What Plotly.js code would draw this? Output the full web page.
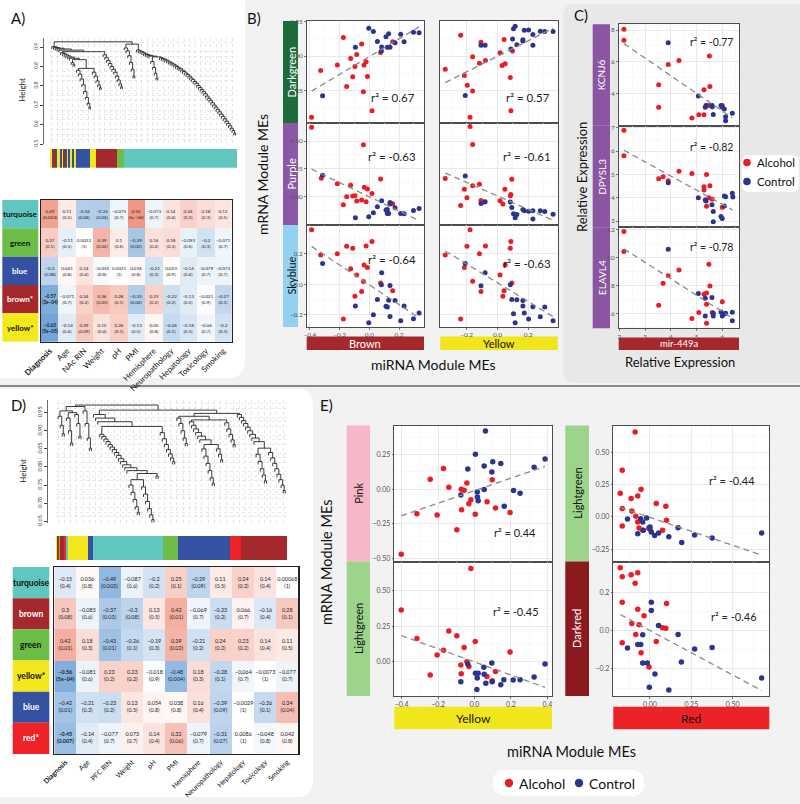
<!DOCTYPE html>
<html><head><meta charset="utf-8">
<script src="https://cdn.plot.ly/plotly-3.0.1.min.js"></script>
<style>html,body{margin:0;padding:0;background:#f2f2f2}#chart{width:800px;height:804px}</style>
</head><body><div id="chart"></div>
<script>
// ===================== DATA =====================
// Panel A: miRNA module-trait relationships
const traitColsA = ['Diagnosis','Age','NAc RIN','Weight','pH','PMI','Hemisphere','Neuropathology','Hepatology','Toxicology','Smoking'];
const modulesA = ['turquoise','green','blue','brown*','yellow*'];
const corrA = [
 [0.49,0.11,-0.34,-0.35,-0.075,0.55,-0.073,0.14,0.24,0.18,0.13],
 [0.27,-0.11,0.0022,0.39,0.1,-0.39,0.16,0.18,-0.093,-0.2,-0.071],
 [-0.3,0.041,0.14,-0.035,0.0021,0.036,-0.21,0.023,-0.14,-0.079,-0.073],
 [-0.57,-0.071,0.24,0.36,0.28,-0.35,0.23,-0.22,-0.13,-0.021,-0.27],
 [-0.63,-0.14,0.29,0.15,0.26,-0.13,0.05,-0.26,-0.18,-0.06,-0.2]];
const pvalA = [
 ['0.003','0.5','0.04','0.04','0.7','5e-04','0.7','0.4','0.2','0.3','0.5'],
 ['0.1','0.5','1','0.02','0.6','0.02','0.4','0.3','0.6','0.3','0.7'],
 ['0.08','0.8','0.4','0.8','1','0.8','0.2','0.9','0.4','0.7','0.7'],
 ['3e-04','0.7','0.2','0.03','0.1','0.04','0.2','0.2','0.5','0.9','0.1'],
 ['5e-05','0.4','0.09','0.4','0.1','0.5','0.8','0.1','0.3','0.7','0.3']];
const geneModulesA = ['yellow','blue','brown','blue','yellow','blue','yellow','brown','blue','yellow','blue','yellow','blue','yellow','blue','yellow','brown','green','turquoise'];
const geneCountsA = [5,5,8,4,8,6,4,6,4,5,5,5,7,6,42,18,62,23,339];

// Panel D: mRNA module-trait relationships
const traitColsD = ['Diagnosis','Age','PFC RIN','Weight','pH','PMI','Hemisphere','Neuropathology','Hepatology','Toxicology','Smoking'];
const modulesD = ['turquoise','brown','green','yellow*','blue','red*'];
const corrD = [
 [-0.15,0.036,-0.49,-0.087,-0.2,0.25,-0.29,0.11,0.24,0.14,0.00068],
 [0.3,-0.085,-0.37,-0.3,0.13,0.42,-0.069,-0.23,0.066,-0.16,0.28],
 [0.42,0.18,-0.43,-0.26,-0.19,0.39,-0.21,0.24,0.23,0.14,0.11],
 [-0.56,-0.081,0.23,0.23,-0.018,-0.48,0.18,-0.28,-0.064,-0.0073,-0.077],
 [-0.42,-0.21,-0.23,0.13,0.054,0.038,0.16,-0.29,-0.0029,-0.26,0.34],
 [-0.45,-0.14,-0.077,0.073,0.14,0.32,-0.079,-0.31,0.0086,-0.048,0.042]];
const pvalD = [
 ['0.4','0.8','0.003','0.6','0.2','0.1','0.09','0.5','0.2','0.4','1'],
 ['0.08','0.6','0.03','0.08','0.5','0.01','0.7','0.2','0.7','0.4','0.1'],
 ['0.01','0.3','0.01','0.1','0.3','0.02','0.2','0.2','0.2','0.4','0.5'],
 ['5e-04','0.6','0.2','0.2','0.9','0.004','0.3','0.1','0.7','1','0.7'],
 ['0.01','0.2','0.2','0.5','0.8','0.8','0.4','0.09','1','0.1','0.04'],
 ['0.007','0.4','0.7','0.7','0.4','0.06','0.7','0.07','1','0.8','0.8']];
const geneModulesD = ['yellow','brown','green','brown','red','turquoise','yellow','blue','turquoise','green','blue','red','brown'];
const geneCountsD = [4,6,3,11,6,7,60,13,212,45,155,32,140];

// Dendrogram merge heights (tree)
function node(h, l, r){ return {h:h, l:l||null, r:r||null}; }
function chain(items, tail){
  let nd = tail || null;
  for (let i = items.length-1; i >= 0; i--) {
    const it = items[i];
    nd = Array.isArray(it) ? {h:it[0], l:it[1], r:nd} : {h:it, l:null, r:nd};
  }
  return nd;
}
const bigRightA = [0.935,0.930,0.926,0.921,0.915,0.911,0.907,0.903,[0.899, chain([0.875,0.845,0.815,0.79])],0.895,0.891,0.887,0.883,0.878,0.872,0.867,0.862,0.856,0.850,0.843,0.838,0.831,0.824,0.816,0.808,0.800,0.791,0.782,0.772,0.763,0.752,0.741,0.731,0.720,0.709,0.697,0.686,0.675,0.663,0.651,0.640,0.628,0.616,0.604,0.592,0.580,0.568,0.556,0.544,0.531,0.519,0.506];
const dendA = node(0.977,
  chain([0.952,0.948,0.944,0.94,0.934], node(0.926,
     chain([0.921,0.916,0.91,0.904,0.898,0.892], node(0.885,
        node(0.87, null, node(0.86)),
        node(0.84, chain([0.83,0.81,0.785,0.755,0.72,0.69,0.66,0.64]), chain([0.82,0.80,0.775,0.755,0.74])))),
     chain([0.91,0.895,0.88,0.865,0.85,0.835,0.82,0.80,0.78,0.76,0.745]))),
  node(0.965, chain([0.945,0.93,0.905,0.87,0.835,0.80]), chain(bigRightA)));

const dendD = node(0.971,
  node(0.967,
    node(0.955, chain([0.94,0.915,0.892]), node(0.95, chain([0.935,0.90,0.866]), chain([0.945,0.92,0.885]))),
    chain([0.955,0.92,0.88,0.852])),
  node(0.957,
    chain([0.945,0.935,0.925], node(0.912,
      chain([0.89,0.884,0.877,0.87,0.862,0.855,0.848,0.84,0.832,0.823,0.815,0.806,0.798,0.79],
        node(0.782, node(0.765, chain([0.75,0.73,0.71,0.69,0.675]), chain([0.745,0.725,0.705,0.685,0.668,0.655])), node(0.775))),
      chain([0.895,0.878,0.862,0.848,0.836,0.825,0.815]))),
    node(0.948,
      node(0.94, chain([0.935,0.92,0.90,0.88,0.865]),
        node(0.93, chain([0.925,0.915,0.905,0.895,0.885,0.875], node(0.862, chain([0.85,0.83,0.81,0.79,0.77,0.755]), chain([0.85,0.835,0.82]))),
                   chain([0.922,0.905,0.89,0.875,0.862]))),
      chain([0.945,0.937,0.928,0.92,0.91,0.9,0.89,0.88,0.87], node(0.852, chain([0.835,0.815,0.795,0.778,0.762]), chain([0.84,0.825,0.81,0.795,0.78,0.765,0.75,0.735]))))));

// Panel B: mRNA module MEs vs miRNA module MEs
const bDarkgreenBrownAlcX = [-0.389,-0.328,-0.175,-0.216,-0.126,-0.112,-0.097,-0.085,-0.052,-0.153,-0.040,-0.036,-0.022,-0.013,0.018,0.076,0.157];
const bDarkgreenBrownAlcY = [-0.443,-0.105,0.136,-0.064,-0.017,-0.150,-0.076,0.012,0.088,-0.221,-0.259,-0.064,-0.040,-0.148,-0.397,0.026,0.105];
const bDarkgreenBrownCtlX = [-0.315,-0.094,-0.004,0.027,0.054,0.083,0.081,0.112,0.130,0.121,0.139,0.173,0.211,0.234,0.297,0.335];
const bDarkgreenBrownCtlY = [-0.288,0.064,0.202,0.179,0.107,0.067,0.038,0.140,0.162,0.064,0.064,0.098,0.159,0.105,0.174,0.169];
const bDarkgreenYellowAlcX = [-0.339,-0.239,-0.215,-0.196,-0.178,-0.161,-0.161,-0.117,-0.107,-0.078,0.017,0.030,0.043,0.050,0.083,0.087,0.098];
const bDarkgreenYellowAlcY = [-0.095,0.152,-0.140,-0.212,-0.443,-0.252,-0.005,-0.052,0.100,-0.031,0.024,-0.067,0.121,-0.055,-0.155,-0.397,0.038];
const bDarkgreenYellowCtlX = [-0.209,-0.107,-0.080,0.087,0.098,0.104,0.115,0.126,0.165,0.165,0.174,0.202,0.230,0.230,0.278,0.307,0.361];
const bDarkgreenYellowCtlY = [-0.286,0.079,0.079,0.052,0.124,0.198,0.217,0.083,0.119,0.109,0.188,0.190,0.157,0.079,0.181,0.179,0.179];
const bPurpleBrownAlcX = [-0.389,-0.324,-0.216,-0.175,-0.153,-0.126,-0.112,-0.097,-0.085,-0.052,-0.040,-0.034,-0.022,-0.013,0.018,0.076,0.157];
const bPurpleBrownAlcY = [0.623,0.166,0.117,-0.072,0.000,0.102,0.006,0.009,-0.039,-0.030,0.467,0.084,-0.045,0.069,0.030,0.160,-0.063];
const bPurpleBrownCtlX = [-0.315,-0.094,-0.004,0.027,0.054,0.083,0.112,0.121,0.121,0.130,0.139,0.139,0.173,0.211,0.234,0.297,0.335];
const bPurpleBrownCtlY = [0.193,-0.190,-0.181,-0.145,-0.090,-0.036,-0.120,-0.114,-0.151,-0.151,-0.051,-0.066,-0.099,-0.151,-0.154,-0.123,-0.105];
const bPurpleYellowAlcX = [-0.339,-0.239,-0.215,-0.198,-0.178,-0.161,-0.161,-0.117,-0.107,-0.085,0.017,0.035,0.048,0.083,0.087,0.093];
const bPurpleYellowAlcY = [0.163,-0.078,0.066,-0.009,0.630,0.470,0.099,0.111,-0.033,-0.048,-0.036,-0.066,0.066,0.009,0.021,0.157];
const bPurpleYellowCtlX = [-0.209,-0.107,-0.080,0.083,0.093,0.104,0.115,0.126,0.165,0.174,0.202,0.230,0.230,0.278,0.307,0.361];
const bPurpleYellowCtlY = [0.187,-0.060,-0.045,-0.048,-0.096,-0.154,-0.190,-0.160,-0.114,-0.127,-0.130,-0.199,-0.127,-0.127,-0.133,-0.157];
const bSkyblueBrownAlcX = [-0.389,-0.328,-0.216,-0.153,-0.112,-0.126,-0.085,-0.040,-0.052,-0.097,-0.022,0.018,-0.036,-0.013,-0.175,0.076,0.157];
const bSkyblueBrownAlcY = [0.360,0.193,0.202,0.251,0.238,0.102,0.062,0.018,-0.047,-0.078,0.253,0.282,0.127,0.111,-0.229,0.009,-0.042];
const bSkyblueBrownCtlX = [-0.315,-0.094,-0.004,0.027,0.054,0.083,0.081,0.112,0.130,0.121,0.139,0.173,0.139,0.211,0.234,0.297,0.335];
const bSkyblueBrownCtlY = [0.138,-0.142,-0.253,-0.200,-0.100,0.076,-0.002,-0.144,-0.104,-0.149,-0.007,-0.107,-0.211,-0.240,-0.142,-0.227,-0.189];
const bSkyblueYellowAlcX = [-0.178,-0.339,-0.215,-0.198,-0.161,-0.117,-0.107,-0.078,0.017,0.035,0.043,0.050,0.083,0.087,0.093,-0.239];
const bSkyblueYellowAlcY = [0.360,0.193,0.111,0.251,0.020,0.202,-0.047,0.253,0.062,-0.078,-0.042,0.127,0.238,0.282,0.009,-0.229];
const bSkyblueYellowCtlX = [-0.209,-0.107,-0.080,0.083,0.093,0.104,0.115,0.126,0.165,0.165,0.174,0.202,0.230,0.278,0.307,0.361];
const bSkyblueYellowCtlY = [0.138,-0.009,0.076,-0.002,-0.100,-0.193,-0.253,-0.102,-0.107,-0.142,-0.189,-0.229,-0.147,-0.213,-0.149,-0.240];
const bRSquared = ['0.67','0.57','-0.63','-0.61','-0.64','-0.63'];
const bYTicks = [[-0.25,0,0.25],[0,0.25,0.5],[-0.2,0,0.2]];
const bXTicks = [-0.4,-0.2,0,0.2];

// Panel C: gene relative expression vs mir-449a relative expression
const cKcnj6AlcX = [2.18,2.18,3.53,3.53,3.90,4.32,4.82,5.09,5.29,5.29,5.50,5.52,5.39,5.48,5.59,6.00];
const cKcnj6AlcY = [8.04,7.35,4.55,3.12,5.83,6.08,2.44,2.65,2.65,4.23,6.36,4.44,3.24,3.24,3.24,3.24];
const cKcnj6CtlX = [3.90,5.07,5.34,5.37,5.61,5.65,5.60,5.95,6.00,6.08,6.13,6.13,6.39];
const cKcnj6CtlY = [7.20,3.83,3.12,3.24,3.16,2.67,3.24,3.24,3.12,3.01,2.53,2.27,2.74];
const cDpysl3AlcX = [2.18,2.18,3.53,3.70,3.90,4.32,4.82,5.39,5.29,5.29,5.52,5.48,5.39,5.61,6.00];
const cDpysl3AlcY = [6.89,5.80,4.81,4.90,4.73,5.13,5.04,5.00,4.47,4.33,4.51,4.00,3.63,3.93,3.59];
const cDpysl3CtlX = [3.90,5.07,5.34,5.37,5.60,5.65,5.65,5.95,6.00,6.08,6.13,6.08,6.39,6.41];
const cDpysl3CtlY = [4.64,4.00,3.90,3.86,3.70,3.41,2.97,3.19,3.11,3.64,4.04,4.07,4.19,4.03];
const cElavl4AlcX = [2.18,2.18,3.53,3.70,3.90,4.32,4.82,5.09,5.29,5.39,5.39,5.48,5.52,5.61,6.00,5.39];
const cElavl4AlcY = [11.88,10.44,6.58,8.16,8.71,9.12,5.62,6.05,7.37,7.46,6.65,9.53,7.97,6.05,6.84,5.28];
const cElavl4CtlX = [3.90,5.07,5.34,5.34,5.60,5.65,5.65,5.95,6.00,6.08,6.13,6.39,6.39];
const cElavl4CtlY = [10.61,7.42,7.08,5.81,7.13,6.00,5.81,6.10,5.81,5.95,6.00,6.07,5.47];
const cGenes = ['KCNJ6','DPYSL3','ELAVL4'];
const cRSquared = ['-0.77','-0.82','-0.78'];
const cYTicks = [[4,6,8],[3,4,5,6,7],[6,8,10,12]];
const cXTicks = [2,3,4,5,6];

// Panel E
const ePinkYellowAlcX = [-0.402,-0.316,-0.243,-0.205,-0.170,-0.141,-0.097,-0.073,-0.071,-0.057,-0.042,-0.031,-0.020,0.004,0.069,0.097,0.115,0.195];
const ePinkYellowAlcY = [-0.468,-0.177,0.072,-0.186,0.148,0.014,-0.291,0.000,-0.148,-0.007,0.045,-0.105,-0.076,-0.181,-0.091,0.067,-0.136,-0.167];
const ePinkYellowCtlX = [-0.075,-0.037,0.005,0.015,0.016,0.020,0.053,0.053,0.060,0.095,0.100,0.144,0.163,0.214,0.250,0.327,0.387];
const ePinkYellowCtlY = [-0.041,0.146,0.251,-0.021,-0.057,-0.084,0.167,-0.002,0.418,0.124,0.198,0.184,-0.122,-0.010,-0.029,0.158,0.217];
const eLightgreenRedAlcX = [-0.180,-0.168,-0.168,-0.168,-0.114,-0.110,-0.086,-0.090,-0.074,-0.074,-0.066,-0.054,-0.044,-0.006,0.000,0.038,0.076,0.096,0.100];
const eLightgreenRedAlcY = [0.185,0.364,0.065,-0.070,0.143,0.047,0.005,0.660,0.164,-0.039,-0.086,0.216,-0.104,-0.088,-0.096,0.104,-0.104,0.083,-0.026];
const eLightgreenRedCtlX = [-0.136,-0.074,-0.056,-0.044,-0.040,-0.020,-0.004,0.008,0.028,0.052,0.114,0.170,0.192,0.270,0.376,0.676,0.000];
const eLightgreenRedCtlY = [-0.016,-0.130,-0.013,-0.039,-0.104,-0.008,-0.083,-0.117,-0.143,-0.125,-0.153,-0.083,-0.198,-0.140,-0.164,-0.125,-0.078];
const eLightgreenYellowAlcX = [-0.402,-0.316,-0.243,-0.205,-0.170,-0.141,-0.097,-0.075,-0.073,-0.057,-0.042,-0.031,-0.020,0.004,0.068,0.097,0.115,0.195];
const eLightgreenYellowAlcY = [0.366,0.164,-0.093,0.049,0.083,0.218,0.185,-0.021,-0.083,0.102,0.002,-0.032,0.657,0.144,-0.102,-0.132,-0.067,0.069];
const eLightgreenYellowCtlX = [-0.075,-0.037,0.005,0.020,0.015,0.013,0.053,0.051,0.062,0.097,0.095,0.144,0.161,0.212,0.250,0.327,0.387];
const eLightgreenYellowCtlY = [-0.139,-0.014,-0.079,-0.079,-0.113,-0.194,-0.086,-0.037,-0.150,-0.139,-0.007,-0.160,-0.125,-0.127,-0.125,-0.106,-0.014];
const eDarkredRedAlcX = [-0.180,-0.168,-0.114,-0.090,-0.074,-0.168,-0.074,-0.036,-0.110,-0.066,-0.086,-0.168,-0.054,0.038,0.076,0.096,0.100,-0.006];
const eDarkredRedAlcY = [0.331,0.284,0.294,0.250,0.305,0.150,0.113,0.079,0.039,0.032,-0.019,-0.062,-0.115,-0.056,0.016,0.014,0.144,-0.190];
const eDarkredRedCtlX = [-0.136,-0.074,-0.056,-0.044,-0.044,-0.016,0.008,0.008,0.030,0.052,-0.004,0.114,0.170,0.190,0.270,0.376,0.676];
const eDarkredRedCtlY = [-0.090,-0.072,-0.072,-0.021,-0.169,-0.169,0.150,0.107,-0.226,0.028,-0.296,-0.310,-0.019,-0.164,-0.095,-0.088,-0.248];
const eRSquared = ['0.44','-0.44','-0.45','-0.46'];
const eYTicks = [[-0.5,-0.25,0,0.25],[-0.25,0,0.25,0.5],[0,0.25,0.5],[-0.2,0,0.2]];
const eXTicksYellow = [-0.4,-0.2,0,0.2,0.4];
const eXTicksRed = [0,0.25,0.5];
const groups = ['Alcohol','Control'];

// ===================== STYLE / LAYOUT =====================
const FONT = 'Lato, "Open Sans", Arial, sans-serif';
const W = 800, H = 804;
const P = x => x / W;
const Q = y => 1 - y / H;
const dom = (a, b) => [Q(b), Q(a)];
const RED = '#ec1c24', BLUE = '#2b3590';
const MODCOL = {turquoise:'#60c7bf', green:'#6cbd45', blue:'#3451a2', brown:'#a5282c', yellow:'#f3e81b', red:'#ee2227'};
const MODTXT = {turquoise:'#111', green:'#111', blue:'#fff', brown:'#fff', yellow:'#111', red:'#fff'};
const HEATSCALE = [[0,'#1f6fc0'],[0.5,'#ffffff'],[1,'#e4411f']];

const traces = [];
const layout = {
  width: W, height: H, margin:{l:0,r:0,t:0,b:0},
  paper_bgcolor:'#f2f2f2', plot_bgcolor:'#ffffff', showlegend:false,
  font:{family:FONT, color:'#1a1a1a'}, shapes:[], annotations:[], bargap:0
};
function roundRect(x0,y0,x1,y1,r){
  const pt = (x,y) => P(x)+','+Q(y);
  return 'M'+pt(x0+r,y0)+' L'+pt(x1-r,y0)+' Q'+pt(x1,y0)+' '+pt(x1,y0+r)+' L'+pt(x1,y1-r)+' Q'+pt(x1,y1)+' '+pt(x1-r,y1)+
    ' L'+pt(x0+r,y1)+' Q'+pt(x0,y1)+' '+pt(x0,y1-r)+' L'+pt(x0,y0+r)+' Q'+pt(x0,y0)+' '+pt(x0+r,y0)+' Z';
}
function addPath(path, fill){ layout.shapes.push({type:'path', xref:'paper', yref:'paper', path:path, fillcolor:fill, line:{width:0}, layer:'below'}); }
function ann(o){ layout.annotations.push(Object.assign({showarrow:false, xref:'paper', yref:'paper', xanchor:'center', yanchor:'middle'}, o)); }

// backgrounds
addPath(roundRect(-20,-20,245,378,18), '#ffffff');
addPath(roundRect(563,4,820,383,12), '#e8e8e8');
addPath(roundRect(-20,389,313,797,16), '#ffffff');
layout.shapes.push({type:'line', xref:'paper', yref:'paper', x0:0, x1:1, y0:Q(386), y1:Q(386), line:{color:'#666', width:1.6}, layer:'below'});

// panel letters
[['A)',18,18],['B)',254,18],['C)',581,15],['D)',18,405],['E)',326,405]].forEach(l =>
  ann({text:l[0], x:P(l[1]), y:Q(l[2]), font:{size:15, color:'#111'}}));

// ---------- dendrograms ----------
function dendroSegments(root, drop){
  const xs = [], ys = []; let idx = 0;
  const seg = (x0,y0,x1,y1) => { xs.push(x0,x1,null); ys.push(y0,y1,null); };
  function place(child, h){
    if (!child) { const x = idx++; seg(x,h,x,h-drop); return x; }
    const x = walk(child); seg(x,h,x,child.h); return x;
  }
  function walk(nd){ const lx = place(nd.l, nd.h), rx = place(nd.r, nd.h); seg(lx,nd.h,rx,nd.h); return (lx+rx)/2; }
  walk(root);
  return {x:xs, y:ys, n:idx};
}
function dendroPanel(n, tree, drop, xPix, yPix, yr, dt, fmt, axisX, fsize, heightLbl){
  const d = dendroSegments(tree, drop);
  const sfx = n === 1 ? '' : String(n);
  traces.push({type:'scatter', mode:'lines', x:d.x, y:d.y, xaxis:'x'+sfx, yaxis:'y'+sfx, line:{color:'#262626', width:0.9}, hoverinfo:'skip', showlegend:false});
  layout['xaxis'+sfx] = {domain:[P(xPix[0]),P(xPix[1])], range:[-1, d.n], anchor:'y'+sfx, showticklabels:false, ticks:'', zeroline:false, showline:false,
    showgrid:true, dtick:3, tick0:0, griddash:'dot', gridcolor:'#d9d9d9', gridwidth:0.7};
  layout['yaxis'+sfx] = {domain:dom(yPix[0],yPix[1]), range:yr, anchor:'free', position:P(axisX), dtick:dt, tick0:0.05, tickformat:fmt,
    tickangle:-90, tickfont:{size:fsize, color:'#444'}, ticks:'outside', ticklen:3, tickcolor:'#444', showline:true, linecolor:'#444', linewidth:0.8,
    zeroline:false, showgrid:false, minor:{dtick:dt/4, showgrid:true, griddash:'dot', gridcolor:'#dedede', gridwidth:0.7}};
  ann({text:'Height', x:P(heightLbl[0]), y:Q(heightLbl[1]), textangle:-90, font:{size:8, color:'#222'}});
}
dendroPanel(1, dendA, 0.012, [50,237.3], [38.3,144], [0.45,0.995], 0.1, '.1f', 42.7, 5, [21.7,90]);
dendroPanel(13, dendD, 0.008, [56,287.3], [400,523.1], [0.645,0.985], 0.05, '.2f', 47.3, 5.5, [22.7,471]);

// ---------- module colour bars ----------
function colorBar(n, mods, counts, xPix, yPix){
  const base = []; let acc = 0;
  counts.forEach(c => { base.push(acc); acc += c; });
  traces.push({type:'bar', orientation:'h', x:counts, base:base, y:counts.map(() => 0), width:1,
    marker:{color:mods.map(m => MODCOL[m]), line:{width:0}}, xaxis:'x'+n, yaxis:'y'+n, hoverinfo:'skip', showlegend:false});
  layout['xaxis'+n] = {domain:[P(xPix[0]),P(xPix[1])], range:[0,acc], anchor:'y'+n, visible:false};
  layout['yaxis'+n] = {domain:dom(yPix[0],yPix[1]), range:[-0.5,0.5], anchor:'x'+n, visible:false};
}
colorBar(2, geneModulesA, geneCountsA, [50,237.3], [149,167.7]);
colorBar(14, geneModulesD, geneCountsD, [56,287.3], [536,560.3]);

// ---------- heatmaps ----------
function heatPanel(n, cols, mods, corr, pv, xPix, yPix, lblPix, fsCell, fsTick, fsRow){
  const txt = corr.map((row,i) => row.map((v,j) => {
    const s = String(v).replace('-', '\u2212') + '<br>(' + pv[i][j].replace('-', '\u2212') + ')';
    return (mods[i].indexOf('*') >= 0 && j === 0) ? '<b>' + s + '</b>' : s;
  }));
  traces.push({type:'heatmap', x:cols, y:mods, z:corr, text:txt, texttemplate:'%{text}', textfont:{size:fsCell, color:'#222', family:FONT},
    colorscale:HEATSCALE, zmin:-1, zmax:1, showscale:false, xaxis:'x'+n, yaxis:'y'+n, hoverinfo:'skip'});
  layout['xaxis'+n] = {domain:[P(xPix[0]),P(xPix[1])], anchor:'y'+n, type:'category', tickvals:cols,
    ticktext:cols.map((c,j) => j === 0 ? '<b>'+c+'</b>' : c), tickangle:-45, tickfont:{size:fsTick, color:'#111'}, ticks:'', ticklen:0,
    showline:true, mirror:true, linecolor:'#222', linewidth:1.4, showgrid:false, zeroline:false};
  layout['yaxis'+n] = {domain:dom(yPix[0],yPix[1]), anchor:'x'+n, type:'category', autorange:'reversed', showticklabels:false, ticks:'',
    showline:true, mirror:true, linecolor:'#222', linewidth:1.4, showgrid:false, zeroline:false};
  mods.forEach((m,i) => {
    const key = m.replace('*','');
    layout.shapes.push({type:'rect', xref:'paper', yref:'y'+n, x0:P(lblPix[0]), x1:P(lblPix[1]), y0:i-0.5, y1:i+0.5,
      fillcolor:MODCOL[key], line:{width:0}, layer:'below'});
    ann({text:'<b>'+m+'</b>', x:P((lblPix[0]+lblPix[1])/2), yref:'y'+n, y:i, font:{size:fsRow, color:MODTXT[key]}});
  });
}
heatPanel(3, traitColsA, modulesA, corrA, pvalA, [41,231.7], [200,341.7], [2.3,38.3], 4.6, 8, 8);
heatPanel(15, traitColsD, modulesD, corrD, pvalD, [54.3,298.3], [567,754], [12.7,49.3], 5.4, 7, 8.5);

// ---------- scatter panels ----------
function lm(xs, ys){
  const n = xs.length; const mx = xs.reduce((a,b)=>a+b,0)/n, my = ys.reduce((a,b)=>a+b,0)/n;
  let sxy = 0, sxx = 0; xs.forEach((x,i) => { sxy += (x-mx)*(ys[i]-my); sxx += (x-mx)*(x-mx); });
  const b = sxy/sxx, a = my - b*mx; const x0 = Math.min(...xs), x1 = Math.max(...xs);
  return {x:[x0,x1], y:[a+b*x0, a+b*x1]};
}
function scatterPanel(n, ax, ay, cx, cy, msize){
  const xa = 'x'+n, ya = 'y'+n;
  traces.push({type:'scatter', mode:'markers', name:groups[0], x:ax, y:ay, xaxis:xa, yaxis:ya, marker:{color:RED, size:msize}, hoverinfo:'skip', showlegend:false});
  traces.push({type:'scatter', mode:'markers', name:groups[1], x:cx, y:cy, xaxis:xa, yaxis:ya, marker:{color:BLUE, size:msize}, hoverinfo:'skip', showlegend:false});
  const f = lm(ax.concat(cx), ay.concat(cy));
  traces.push({type:'scatter', mode:'lines', x:f.x, y:f.y, xaxis:xa, yaxis:ya, line:{color:'#8a8a8a', width:1.3, dash:'6px,4px'}, hoverinfo:'skip', showlegend:false});
  // white plotting panel (sits above any paper-level background box)
  layout.shapes.push({type:'rect', xref:xa+' domain', yref:ya+' domain', x0:0, x1:1, y0:0, y1:1, fillcolor:'#ffffff', line:{width:0}, layer:'below'});
}
function scAxes(n, xPix, yPix, xr, yr, xTicks, yTicks, xfmt, yfmt, showX, showY, fs){
  const common = {showline:true, mirror:true, linecolor:'#4d4d4d', linewidth:1, zeroline:false, showgrid:true, gridcolor:'#e4e4e4', gridwidth:0.8,
    tickfont:{size:fs, color:'#555'}, ticklen:1.5, tickcolor:'#777'};
  const minorVals = t => t.slice(0,-1).map((v,i) => (v + t[i+1]) / 2).concat([t[0] - (t[1]-t[0])/2, t[t.length-1] + (t[1]-t[0])/2]);
  layout['xaxis'+n] = Object.assign({}, common, {domain:[P(xPix[0]),P(xPix[1])], range:xr, anchor:'y'+n, tickmode:'array', tickvals:xTicks, tickformat:xfmt,
    showticklabels:showX, ticks:showX?'outside':'', minor:{tickmode:'array', tickvals:minorVals(xTicks), showgrid:true, gridcolor:'#f3f3f3', gridwidth:0.6}});
  layout['yaxis'+n] = Object.assign({}, common, {domain:dom(yPix[0],yPix[1]), range:yr, anchor:'x'+n, tickmode:'array', tickvals:yTicks, tickformat:yfmt,
    showticklabels:showY, ticks:showY?'outside':'', minor:{tickmode:'array', tickvals:minorVals(yTicks), showgrid:true, gridcolor:'#f3f3f3', gridwidth:0.6}});
}
function rAnn(n, fx, fy, val, fs){
  ann({text:'r\u00b2 = ' + val, xref:'x'+n+' domain', yref:'y'+n+' domain', x:fx, y:fy, xanchor:'right', font:{size:fs, color:'#222'}});
}
function strip(n, xPix, fill, label, tcol, fs){
  layout.shapes.push({type:'rect', xref:'paper', yref:'y'+n+' domain', x0:P(xPix[0]), x1:P(xPix[1]), y0:0, y1:1, fillcolor:fill, line:{width:0}, layer:'below'});
  ann({text:label, x:P((xPix[0]+xPix[1])/2), yref:'y'+n+' domain', y:0.5, textangle:-90, font:{size:fs, color:tcol}});
}
function colBox(n, yPix, fill, label, tcol, fs){
  layout.shapes.push({type:'rect', xref:'x'+n+' domain', yref:'paper', x0:0, x1:1, y0:Q(yPix[1]), y1:Q(yPix[0]), fillcolor:fill, line:{width:0}, layer:'below'});
  ann({text:label, xref:'x'+n+' domain', x:0.5, y:Q((yPix[0]+yPix[1])/2), font:{size:fs, color:tcol}});
}

// Panel B
const bX1 = [306.7,424], bX2 = [440.3,557.7], bRows = [[21,123],[123,225],[225,327]];
const bXR1 = [-0.422,0.368], bXR2 = [-0.371,0.391];
scatterPanel(4, bDarkgreenBrownAlcX, bDarkgreenBrownAlcY, bDarkgreenBrownCtlX, bDarkgreenBrownCtlY, 5);
scatterPanel(5, bDarkgreenYellowAlcX, bDarkgreenYellowAlcY, bDarkgreenYellowCtlX, bDarkgreenYellowCtlY, 5);
scatterPanel(6, bPurpleBrownAlcX, bPurpleBrownAlcY, bPurpleBrownCtlX, bPurpleBrownCtlY, 5);
scatterPanel(7, bPurpleYellowAlcX, bPurpleYellowAlcY, bPurpleYellowCtlX, bPurpleYellowCtlY, 5);
scatterPanel(8, bSkyblueBrownAlcX, bSkyblueBrownAlcY, bSkyblueBrownCtlX, bSkyblueBrownCtlY, 5);
scatterPanel(9, bSkyblueYellowAlcX, bSkyblueYellowAlcY, bSkyblueYellowCtlX, bSkyblueYellowCtlY, 5);
const bYR = [[-0.485,0.255],[-0.254,0.662],[-0.281,0.391]], bYfmt = ['.2f','.2f','.1f'];
for (let r = 0; r < 3; r++) {
  scAxes(4+2*r, bX1, bRows[r], bXR1, bYR[r], bXTicks, bYTicks[r], '.1f', bYfmt[r], r === 2, true, 6.5);
  scAxes(5+2*r, bX2, bRows[r], bXR2, bYR[r], bXTicks, bYTicks[r], '.1f', bYfmt[r], r === 2, false, 6.5);
}
strip(4, [283,298], '#1e6b3b', 'Darkgreen', '#fff', 11);
strip(6, [283,298], '#8a58a6', 'Purple', '#fff', 11);
strip(8, [283,298], '#92d2f0', 'Skyblue', '#111', 11);
colBox(8, [336.5,350], MODCOL.brown, 'Brown', '#fff', 11);
colBox(9, [336.5,350], '#f1e51b', 'Yellow', '#111', 11);
[[4,0.94,0.252],[5,0.951,0.248],[6,0.949,0.67],[7,0.96,0.67],[8,0.949,0.664],[9,0.96,0.624]].forEach((p,i) => rAnn(p[0], p[1], p[2], bRSquared[i], 11.5));
ann({text:'mRNA Module MEs', x:P(263), y:Q(175), textangle:-90, font:{size:14, color:'#111'}});
ann({text:'miRNA Module MEs', x:P(433), y:Q(364), font:{size:14, color:'#111'}});

// Panel C
const cX = [618.7,739], cRows = [[24.3,125.7],[125.7,227.3],[227.3,328.3]], cXR = [1.977,6.65];
scatterPanel(10, cKcnj6AlcX, cKcnj6AlcY, cKcnj6CtlX, cKcnj6CtlY, 5);
scatterPanel(11, cDpysl3AlcX, cDpysl3AlcY, cDpysl3CtlX, cDpysl3CtlY, 5);
scatterPanel(12, cElavl4AlcX, cElavl4AlcY, cElavl4CtlX, cElavl4CtlY, 5);
const cYR = [[1.96,8.36],[2.73,7.09],[4.92,12.19]];
for (let r = 0; r < 3; r++) {
  scAxes(10+r, cX, cRows[r], cXR, cYR[r], cXTicks, cYTicks[r], 'd', 'd', r === 2, true, 6.5);
  strip(10+r, [592.7,610], '#8a55a3', cGenes[r], '#fff', 10);
}
colBox(12, [337.5,350], MODCOL.brown, 'mir-449a', '#fff', 9.5);
[[10,0.967,0.828],[11,0.967,0.793],[12,0.967,0.808]].forEach((p,i) => rAnn(p[0], p[1], p[2], cRSquared[i], 10.5));
ann({text:'Relative Expression', x:P(582), y:Q(177), textangle:-90, font:{size:13, color:'#111'}});
ann({text:'Relative Expression', x:P(680), y:Q(362), font:{size:13, color:'#111'}});
// legend C
addPath(roundRect(742,155,799,192,7), '#ffffff');
function legendItem(cx, cy, rad, col, label, fs){
  layout.shapes.push({type:'circle', xref:'paper', yref:'paper', x0:P(cx-rad), x1:P(cx+rad), y0:Q(cy+rad), y1:Q(cy-rad), fillcolor:col, line:{width:0}});
  ann({text:label, x:P(cx+rad+4), y:Q(cy), xanchor:'left', font:{size:fs, color:'#111'}});
}
legendItem(747, 162.5, 3.8, RED, groups[0], 11.5);
legendItem(747, 181.5, 3.8, BLUE, groups[1], 11.5);

// Panel E
const eXL = [394.3,552], eXR = [613.3,769.3], eRows = [[425.5,561.5],[561.5,696]];
scatterPanel(16, ePinkYellowAlcX, ePinkYellowAlcY, ePinkYellowCtlX, ePinkYellowCtlY, 5.5);
scatterPanel(17, eLightgreenRedAlcX, eLightgreenRedAlcY, eLightgreenRedCtlX, eLightgreenRedCtlY, 5.5);
scatterPanel(18, eLightgreenYellowAlcX, eLightgreenYellowAlcY, eLightgreenYellowCtlX, eLightgreenYellowCtlY, 5.5);
scatterPanel(19, eDarkredRedAlcX, eDarkredRedAlcY, eDarkredRedCtlX, eDarkredRedCtlY, 5.5);
scAxes(16, eXL, eRows[0], [-0.44,0.425], [-0.52,0.458], eXTicksYellow, eYTicks[0], '.1f', '.2f', false, true, 7);
scAxes(17, eXR, eRows[0], [-0.222,0.722], [-0.346,0.711], eXTicksRed, eYTicks[1], '.2f', '.2f', false, true, 7);
scAxes(18, eXL, eRows[1], [-0.44,0.425], [-0.24,0.707], eXTicksYellow, eYTicks[2], '.1f', '.2f', true, true, 7);
scAxes(19, eXR, eRows[1], [-0.222,0.722], [-0.342,0.364], eXTicksRed, eYTicks[3], '.2f', '.1f', true, true, 7);
strip(16, [346.7,370], '#f6b8c8', 'Pink', '#111', 11);
strip(18, [346.7,370], '#9dd48c', 'Lightgreen', '#111', 11);
strip(17, [565.3,589], '#9dd48c', 'Lightgreen', '#111', 11);
strip(19, [565.3,589], '#8b1a1f', 'Darkred', '#fff', 11);
colBox(18, [706.7,729.3], '#f1e51b', 'Yellow', '#111', 12);
colBox(19, [706.7,729.3], '#ed2226', 'Red', '#111', 12);
[[16,0.911,0.21],[17,0.921,0.599],[18,0.93,0.627],[19,0.933,0.59]].forEach((p,i) => rAnn(p[0], p[1], p[2], eRSquared[i], 11));
ann({text:'mRNA Module MEs', x:P(326), y:Q(563), textangle:-90, font:{size:14.5, color:'#111'}});
ann({text:'miRNA Module MEs', x:P(571), y:Q(751), font:{size:14.5, color:'#111'}});
// legend E
addPath(roundRect(493,770,644,796,13), '#ffffff');
legendItem(509, 783, 4.2, RED, groups[0], 14);
legendItem(579, 783, 4.2, BLUE, groups[1], 14);

Plotly.newPlot('chart', traces, layout, {staticPlot:true, displayModeBar:false});
</script>
</body></html>
